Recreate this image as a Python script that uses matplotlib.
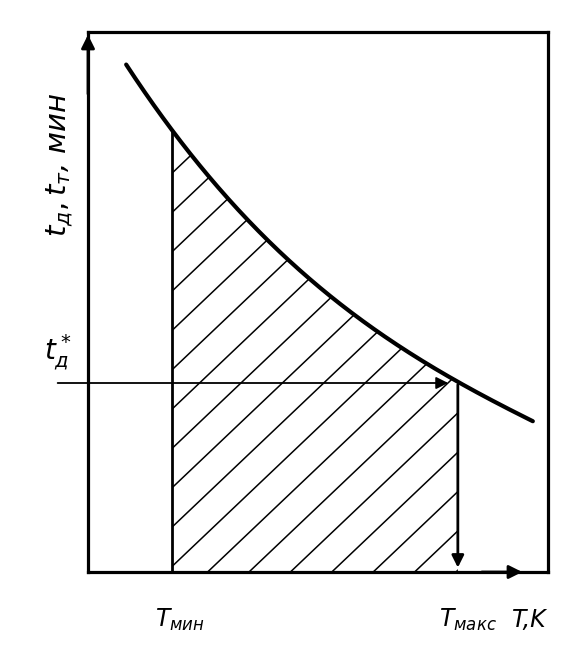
import numpy as np
import matplotlib
matplotlib.use("Agg")
import matplotlib.pyplot as plt
from matplotlib.patches import Polygon

# Data (arbitrary units)
T_curve = [8.3, 15.6, 18.5, 26.5, 34.6, 42.4, 52.0, 61.3, 67.8, 80.4, 89.6, 96.7]
t_curve = [94.4, 84.6, 81.3, 72.6, 65.6, 59.1, 51.7, 45.4, 41.7, 35.0, 30.9, 28.1]
T_min = 18.3
T_max = 80.4
t_star = 35.0
y_label = r"$t_д, t_т$, мин"
star_label = r"$t_д^*$"
xmin_label = r"$T_{мин}$"
xmax_label = r"$T_{макс}$"
x_label = "T,K"

plt.rcParams['font.family'] = ['DejaVu Sans']
plt.rcParams['mathtext.fontset'] = 'dejavusans'

fig = plt.figure(figsize=(5.87, 6.55), dpi=100)
ax = fig.add_axes([88/587, (655-572)/655, 460/587, 540/655])
ax.set_xlim(0, 100)
ax.set_ylim(0, 100)
ax.set_xticks([])
ax.set_yticks([])
for s in ax.spines.values():
    s.set_linewidth(2.3)
    s.set_color('black')

coef = np.polyfit(T_curve, t_curve, 3)
Ts = np.linspace(T_curve[0], T_curve[-1], 400)
ts = np.polyval(coef, Ts)
ax.plot(Ts, ts, color='black', lw=3, solid_capstyle='round')

# hatched region under the curve between T_min and T_max
y_at_min = np.polyval(coef, T_min)
y_at_max = np.polyval(coef, T_max)
mask = (Ts > T_min) & (Ts < T_max)
px = np.concatenate([[T_min], Ts[mask], [T_max, T_max, T_min]])
py = np.concatenate([[y_at_min], ts[mask], [y_at_max, 0, 0]])
poly = Polygon(np.column_stack([px, py]), closed=True, facecolor='none', edgecolor='none')
ax.add_patch(poly)
sx, sy = 4.6, 5.4
slope = sx / sy * 0.95
for c in np.arange(-100, 140, 9.0):
    xs = np.array([0, 100])
    ys = (xs - c) * slope
    ln, = ax.plot(xs, ys, color='black', lw=1.1)
    ln.set_clip_path(poly)

# vertical line at T_min
ax.plot([T_min, T_min], [0, y_at_min], color='black', lw=2)

# arrows
ax.annotate('', xy=(T_max - 1.5, t_star), xytext=(-7.2, t_star),
            arrowprops=dict(arrowstyle='-|>', color='black', lw=1.3,
                            mutation_scale=18), annotation_clip=False)
ax.annotate('', xy=(T_max, 0.3), xytext=(T_max, y_at_max),
            arrowprops=dict(arrowstyle='-|>', color='black', lw=2,
                            mutation_scale=18), annotation_clip=False)
ax.annotate('', xy=(0, 100), xytext=(0, 88),
            arrowprops=dict(arrowstyle='-|>', color='black', lw=2,
                            mutation_scale=20), annotation_clip=False)
ax.annotate('', xy=(95, 0), xytext=(85, 0),
            arrowprops=dict(arrowstyle='-|>', color='black', lw=2,
                            mutation_scale=20), annotation_clip=False)

# labels
ax.text(-5.9, 75.5, y_label, rotation=90, ha='center', va='center',
        fontsize=21, style='italic', clip_on=False)
ax.text(-6.5, 40.5, star_label, ha='center', va='center', fontsize=20,
        clip_on=False)
ax.text(20, -8.9, xmin_label, ha='center', va='center', fontsize=17,
        clip_on=False)
ax.text(82.6, -8.9, xmax_label, ha='center', va='center', fontsize=17,
        clip_on=False)
ax.text(96, -8.9, x_label, ha='center', va='center', fontsize=17,
        style='italic', clip_on=False)

fig.savefig('out.png', dpi=100)
